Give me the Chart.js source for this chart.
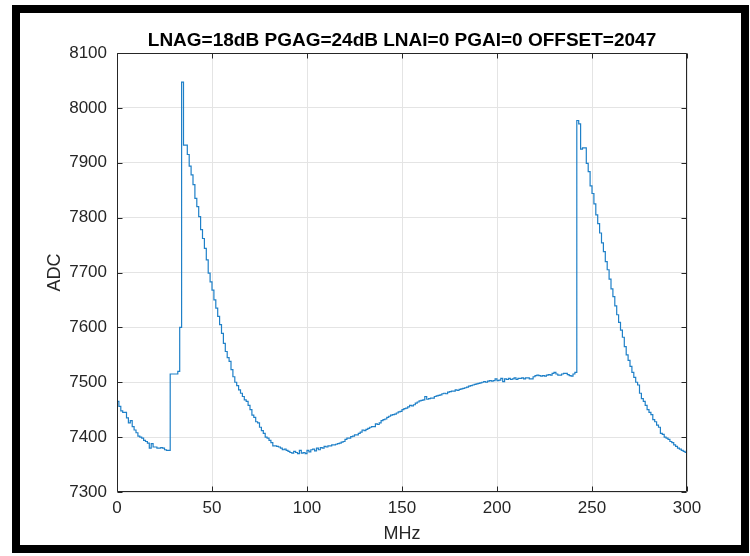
<!DOCTYPE html>
<html>
<head>
<meta charset="utf-8">
<script src="https://cdn.jsdelivr.net/npm/chart.js@4.4.1/dist/chart.umd.min.js"></script>
<style>
  html, body { margin: 0; padding: 0; background: #fff; }
  #wrap { position: relative; width: 750px; height: 556px; }
  #frame {
    position: absolute; left: 12px; top: 5px; width: 737px; height: 548px;
    box-sizing: border-box; border: 8px solid #000; pointer-events: none;
  }
  canvas { position: absolute; left: 0; top: 0; }
</style>
</head>
<body>
<div id="wrap">
  <canvas id="chart" width="750" height="556"></canvas>
  <div id="frame"></div>
</div>
<script>
const titleText = "LNAG=18dB PGAG=24dB LNAI=0 PGAI=0 OFFSET=2047";
const xLabel = "MHz";
const yLabel = "ADC";

// sweep grid: one reading per MHz from 0 to 300
const sweepStartMHz = 0;
const sweepStepMHz = 1;

const xTicks = [0, 50, 100, 150, 200, 250, 300];
const yTicks = [7300, 7400, 7500, 7600, 7700, 7800, 7900, 8000, 8100];

// ADC reading at each MHz step
const adcCounts = [
  7465, 7456, 7448, 7445, 7445, 7435, 7426, 7430, 7419, 7413, // 0
  7408, 7402, 7400, 7398, 7394, 7392, 7389, 7380, 7388, 7382, // 10
  7382, 7380, 7380, 7381, 7380, 7377, 7376, 7376, 7515, 7515, // 20
  7515, 7515, 7520, 7600, 8047, 7932, 7932, 7915, 7894, 7878, // 30
  7860, 7835, 7820, 7802, 7778, 7762, 7744, 7723, 7699, 7683, // 40
  7668, 7650, 7635, 7620, 7605, 7589, 7571, 7556, 7545, 7538, // 50
  7523, 7510, 7500, 7494, 7486, 7480, 7474, 7468, 7465, 7458, // 60
  7450, 7440, 7436, 7428, 7426, 7418, 7412, 7407, 7400, 7398, // 70
  7394, 7390, 7384, 7384, 7383, 7382, 7380, 7377, 7378, 7376, // 80
  7374, 7372, 7371, 7374, 7372, 7370, 7376, 7371, 7372, 7370, // 90
  7376, 7373, 7377, 7378, 7375, 7380, 7377, 7381, 7380, 7383, // 100
  7382, 7384, 7384, 7386, 7386, 7387, 7388, 7389, 7391, 7392, // 110
  7396, 7398, 7398, 7401, 7402, 7404, 7404, 7407, 7409, 7413, // 120
  7412, 7414, 7416, 7418, 7419, 7419, 7424, 7423, 7426, 7430, // 130
  7432, 7433, 7436, 7438, 7440, 7441, 7442, 7444, 7446, 7447, // 140
  7450, 7452, 7453, 7455, 7458, 7457, 7459, 7462, 7464, 7466, // 150
  7467, 7468, 7474, 7469, 7470, 7471, 7471, 7474, 7475, 7476, // 160
  7477, 7479, 7480, 7479, 7482, 7483, 7484, 7484, 7486, 7485, // 170
  7487, 7488, 7489, 7490, 7491, 7493, 7494, 7495, 7496, 7497, // 180
  7498, 7499, 7500, 7501, 7500, 7502, 7503, 7502, 7503, 7506, // 190
  7503, 7504, 7507, 7501, 7506, 7505, 7507, 7505, 7506, 7508, // 200
  7505, 7507, 7507, 7508, 7506, 7508, 7508, 7506, 7506, 7510, // 210
  7512, 7513, 7512, 7511, 7512, 7511, 7513, 7514, 7513, 7516, // 220
  7518, 7515, 7513, 7513, 7515, 7516, 7516, 7514, 7512, 7511, // 230
  7515, 7518, 7977, 7971, 7925, 7927, 7927, 7899, 7884, 7858, // 240
  7844, 7825, 7805, 7789, 7772, 7754, 7738, 7720, 7705, 7688, // 250
  7670, 7656, 7639, 7623, 7609, 7595, 7582, 7565, 7550, 7540, // 260
  7529, 7518, 7509, 7500, 7495, 7480, 7470, 7465, 7458, 7450, // 270
  7445, 7441, 7432, 7428, 7422, 7418, 7407, 7405, 7400, 7398, // 280
  7396, 7392, 7390, 7386, 7383, 7380, 7378, 7376, 7374, 7372, // 290
  7370                                                        // 300
];

const points = adcCounts.map((v, i) => ({ x: sweepStartMHz + i * sweepStepMHz, y: v }));

const FONT = "'Liberation Sans', Arial, Helvetica, sans-serif";
const AXIS_COLOR = "#262626";
const TICK_LEN = 5;

// box round the axes with short ticks pointing inwards on all four sides
const axesBox = {
  id: "axesBox",
  afterDatasetsDraw(chart) {
    const { ctx, chartArea: a, scales } = chart;
    const L = Math.round(a.left) + 0.5, R = Math.round(a.right) - 0.5;
    const T = Math.round(a.top) + 0.5, B = Math.round(a.bottom) - 0.5;
    ctx.save();
    ctx.strokeStyle = AXIS_COLOR;
    ctx.lineWidth = 1;
    ctx.beginPath();
    for (const v of xTicks) {
      const px = Math.round(scales.x.getPixelForValue(v)) + 0.5;
      ctx.moveTo(px, B); ctx.lineTo(px, B - TICK_LEN);
      ctx.moveTo(px, T); ctx.lineTo(px, T + TICK_LEN);
    }
    for (const v of yTicks) {
      const py = Math.round(scales.y.getPixelForValue(v)) + 0.5;
      ctx.moveTo(L, py); ctx.lineTo(L + TICK_LEN, py);
      ctx.moveTo(R, py); ctx.lineTo(R - TICK_LEN, py);
    }
    ctx.rect(L, T, R - L, B - T);
    ctx.stroke();
    ctx.restore();
  }
};

new Chart(document.getElementById("chart"), {
  type: "line",
  data: {
    datasets: [{
      data: points,
      stepped: true,
      borderColor: "#1f80c8",
      borderWidth: 1.2,
      pointRadius: 0,
      fill: false
    }]
  },
  options: {
    responsive: false,
    animation: false,
    events: [],
    layout: { padding: { left: 0, right: 63, top: 0, bottom: 0 } },
    plugins: {
      legend: { display: false },
      tooltip: { enabled: false },
      title: {
        display: true,
        fullSize: false,
        text: titleText,
        color: "#000",
        font: { family: FONT, size: 19, weight: "bold", lineHeight: 1.2 },
        padding: { top: 29, bottom: 1.2 }
      }
    },
    scales: {
      x: {
        type: "linear",
        min: 0,
        max: 300,
        afterFit(scale) { scale.height = 64; },
        afterBuildTicks(scale) { scale.ticks = xTicks.map(v => ({ value: v })); },
        ticks: {
          color: AXIS_COLOR, font: { family: FONT, size: 17 }, padding: 6, maxRotation: 0,
          callback: v => String(v)
        },
        grid: { color: "#e4e4e4", drawTicks: false },
        border: { display: false },
        title: {
          display: true, text: xLabel, color: AXIS_COLOR,
          font: { family: FONT, size: 18, lineHeight: 1.2 },
          padding: { top: 0, bottom: 11 }
        }
      },
      y: {
        type: "linear",
        min: 7300,
        max: 8100,
        afterFit(scale) { scale.width = 117; },
        afterBuildTicks(scale) { scale.ticks = yTicks.map(v => ({ value: v })); },
        ticks: {
          color: AXIS_COLOR, font: { family: FONT, size: 17 }, padding: 10,
          callback: v => String(v)
        },
        grid: { color: "#e4e4e4", drawTicks: false },
        border: { display: false },
        title: {
          display: true, text: yLabel, color: AXIS_COLOR,
          font: { family: FONT, size: 18, lineHeight: 1.2 },
          padding: { top: 44, bottom: 0 }
        }
      }
    }
  },
  plugins: [axesBox]
});
</script>
</body>
</html>
